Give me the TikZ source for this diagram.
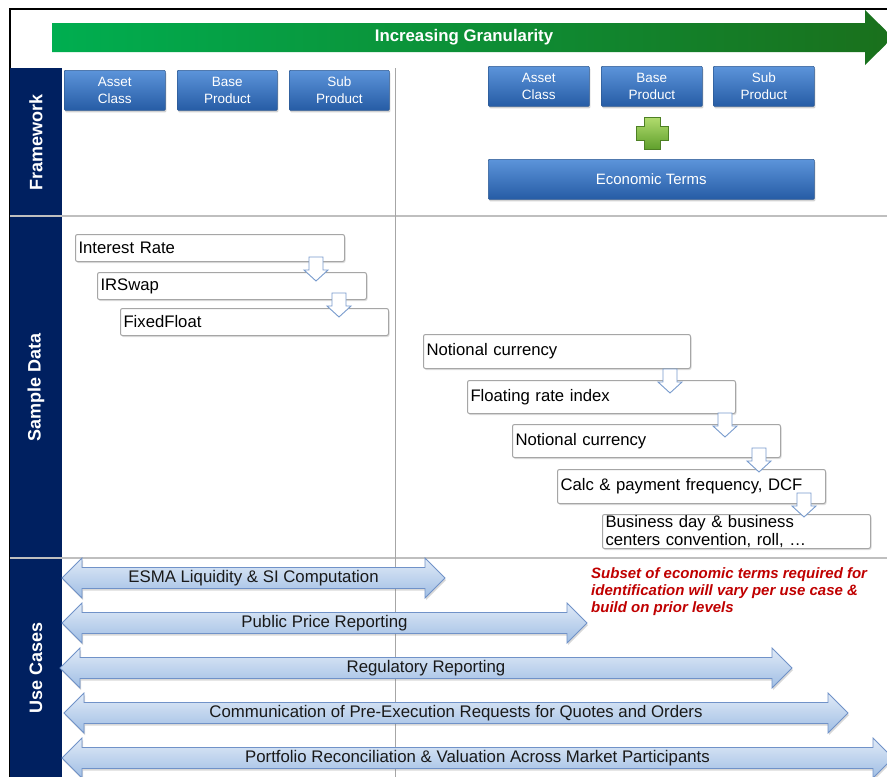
\documentclass[tikz,border=0pt]{standalone}
\usepackage{fontspec}
\setmainfont{Liberation Sans}
\usetikzlibrary{shadows,calc}
\definecolor{navy}{RGB}{0,32,96}
\definecolor{gA}{RGB}{0,174,80}
\definecolor{gB}{RGB}{26,112,28}
\definecolor{bxTop}{RGB}{92,148,218}
\definecolor{bxBot}{RGB}{38,92,165}
\definecolor{bxLine}{RGB}{44,88,145}
\definecolor{ucTop}{RGB}{224,234,247}
\definecolor{ucBot}{RGB}{160,190,228}
\definecolor{ucLine}{RGB}{112,146,200}
\definecolor{arrLine}{RGB}{120,155,205}
\definecolor{redtxt}{RGB}{192,0,0}
\definecolor{sepgray}{RGB}{191,191,191}
\definecolor{divgray}{RGB}{166,166,166}
\definecolor{plusTop}{RGB}{178,220,110}
\definecolor{plusBot}{RGB}{96,160,45}
\newcommand\ucarrow[5]{%
  \draw[ucarrowstyle] ({#2},{#4}) -- ({#2+20},{#4-20}) -- ({#2+20},{#4-10.5}) -- ({#3-20},{#4-10.5}) -- ({#3-20},{#4-20}) -- ({#3},{#4}) -- ({#3-20},{#4+20}) -- ({#3-20},{#4+10.5}) -- ({#2+20},{#4+10.5}) -- ({#2+20},{#4+20}) -- cycle;
  \node[uctext] (#1) at ({(#2+#3)/2},{#4}) {#5};}
\begin{document}
\begin{tikzpicture}[x=1pt,y=-1pt,
  bluebox/.style={draw=bxLine, line width=0.6pt, top color=bxTop, bottom color=bxBot, rounded corners=1pt,
    text=white, align=center, inner sep=1pt, anchor=north west,
    font=\fontsize{13.5}{16.5}\selectfont,
    drop shadow={shadow xshift=1pt, shadow yshift=-2pt, opacity=0.35}},
  databox/.style={draw=divgray, line width=1pt, fill=white, rounded corners=2pt, anchor=north west,
    align=left, inner xsep=3pt, inner ysep=1pt, font=\fontsize{16.7}{17.5}\selectfont,
    drop shadow={shadow xshift=1pt, shadow yshift=-1.5pt, opacity=0.25}},
  hollowarr/.style={draw=arrLine, line width=0.9pt, fill=white, line join=miter},
  ucarrowstyle/.style={draw=ucLine, line width=0.8pt, top color=ucTop, bottom color=ucBot,
    drop shadow={shadow xshift=1pt, shadow yshift=-2pt, opacity=0.3}},
  uctext/.style={font=\fontsize{16.8}{19}\selectfont, text=black!90, inner sep=0pt},
  sidelabel/.style={rotate=90, text=white, font=\bfseries\fontsize{18}{20}\selectfont},
  sepline/.style={draw=sepgray, line width=1.5pt},
  divline/.style={draw=divgray, line width=1pt},
  darr/.pic={\draw[hollowarr] (-7,0) -- (7,0) -- (7,13) -- (12,13) -- (0,24) -- (-12,13) -- (-7,13) -- cycle;}
]
\useasboundingbox (0,0) rectangle (887,777);
\fill[white] (0,0) rectangle (887,777);

% outer frame
\draw[black, line width=1.5pt] (10,777) -- (10,9) -- (887,9);

% green granularity arrow
\shade[left color=gA, middle color=gA, right color=gB] (52,23) -- (865,23) -- (865,10) -- (893,37.5) -- (865,65) -- (865,52) -- (52,52) -- cycle;
\node[text=white, font=\bfseries\fontsize{16.8}{19}\selectfont] (title) at (464,37.5) {Increasing Granularity};

% sidebar
\fill[navy] (10,68) rectangle (62,777);
\node[sidelabel] (fw) at (36,142) {Framework};
\node[sidelabel] (sd) at (36,387) {Sample Data};
\node[sidelabel] (uc) at (36,668) {Use Cases};

% separators
\draw[sepline] (10,216) -- (887,216);
\draw[sepline] (10,558) -- (887,558);
\draw[divline] (395,68) -- (395,777);

% framework boxes, left
\node[bluebox, minimum width=101pt, minimum height=40pt] (ac1) at (64,70) {Asset\\Class};
\node[bluebox, minimum width=100pt, minimum height=40pt] (bp1) at (177,70) {Base\\Product};
\node[bluebox, minimum width=100pt, minimum height=40pt] (sp1) at (289,70) {Sub\\Product};
% framework boxes, right
\node[bluebox, minimum width=101pt, minimum height=40pt] (ac2) at (488,66) {Asset\\Class};
\node[bluebox, minimum width=101pt, minimum height=40pt] (bp2) at (601,66) {Base\\Product};
\node[bluebox, minimum width=101pt, minimum height=40pt] (sp2) at (713,66) {Sub\\Product};
\node[bluebox, minimum width=326pt, minimum height=40pt, font=\fontsize{15}{17}\selectfont] (et) at (488,159) {Economic Terms};

% green plus
\shade[top color=plusTop, bottom color=plusBot, draw=plusBot!80!black, line width=0.5pt]
  (644,117) -- (660,117) -- (660,126) -- (668,126) -- (668,140) -- (660,140) -- (660,149) -- (644,149) -- (644,140) -- (636,140) -- (636,126) -- (644,126) -- cycle;

% sample data, left
\node[databox, text width=263pt, minimum height=27pt] (ir) at (75,234) {Interest Rate};
\node[databox, text width=263pt, minimum height=27pt] (irs) at (97,272) {IRSwap};
\node[databox, text width=262pt, minimum height=27pt] (ff) at (120,308) {FixedFloat};
\pic at ([xshift=-29pt,yshift=5pt]ir.south east) {darr};
\pic at ([xshift=-28pt,yshift=7pt]irs.south east) {darr};

% sample data, right
\node[databox, text width=261pt, minimum height=34pt] (nc1) at (423,334) {Notional currency};
\node[databox, text width=262pt, minimum height=33pt] (fri) at (467,380) {Floating rate index};
\node[databox, text width=262pt, minimum height=33pt] (nc2) at (512,424) {Notional currency};
\node[databox, text width=262pt, minimum height=34pt] (cpf) at (557,469) {Calc \& payment frequency, DCF};
\node[databox, text width=262pt, minimum height=34pt] (bd) at (602,514) {Business day \& business\\centers convention, roll, …};
\pic at ([xshift=-21pt,yshift=0pt]nc1.south east) {darr};
\pic at ([xshift=-11pt,yshift=1pt]fri.south east) {darr};
\pic at ([xshift=-22pt,yshift=10pt]nc2.south east) {darr};
\pic at ([xshift=-22pt,yshift=11pt]cpf.south east) {darr};

% use cases
\ucarrow{esma}{62}{445}{578}{ESMA Liquidity \& SI Computation}
\ucarrow{ppr}{62}{587}{623}{Public Price Reporting}
\ucarrow{rr}{60}{792}{668}{Regulatory Reporting}
\ucarrow{comm}{64}{848}{713}{Communication of Pre-Execution Requests for Quotes and Orders}
\ucarrow{prv}{62}{893}{758}{Portfolio Reconciliation \& Valuation Across Market Participants}

\node[anchor=north west, align=left, inner sep=0pt, text=redtxt, font=\bfseries\itshape\fontsize{15}{17}\selectfont] (note) at (591,567)
  {Subset of economic terms required for\\identification will vary per use case \&\\build on prior levels};
\end{tikzpicture}
\end{document}
